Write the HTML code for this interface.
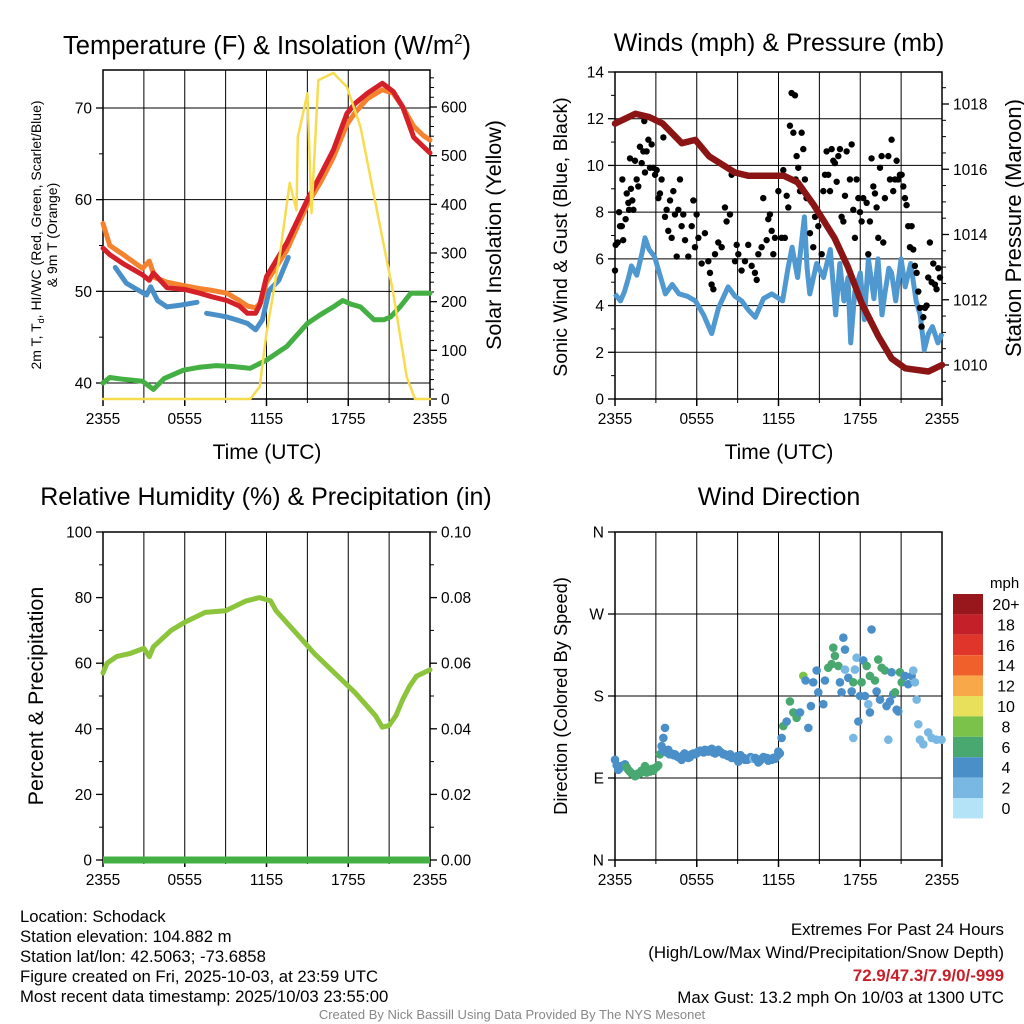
<!DOCTYPE html>
<html><head><meta charset="utf-8"><style>
body{margin:0;background:#fff;}
svg{display:block;font-family:"Liberation Sans",Arial,sans-serif;}
</style></head><body>
<svg id="c" width="1024" height="1024" viewBox="0 0 1024 1024" xmlns="http://www.w3.org/2000/svg">
<rect width="1024" height="1024" fill="#fff"/>
<g id="layer"></g>
<text x="267" y="54" font-size="25.5" text-anchor="middle">Temperature (F) &amp; Insolation (W/m<tspan font-size="15" dy="-10">2</tspan><tspan dy="10">)</tspan></text>
<text x="779" y="51" font-size="25" text-anchor="middle">Winds (mph) &amp; Pressure (mb)</text>
<text x="266" y="505" font-size="25" text-anchor="middle">Relative Humidity (%) &amp; Precipitation (in)</text>
<text x="779" y="505" font-size="25" text-anchor="middle">Wind Direction</text>
<g font-size="14" text-anchor="middle">
<text transform="translate(41,235) rotate(-90)">2m T, T<tspan font-size="9" dy="3">d</tspan><tspan dy="-3">, HI/WC (Red, Green, Scarlet/Blue)</tspan></text>
<text transform="translate(57,235) rotate(-90)">&amp; 9m T (Orange)</text></g>
<text transform="translate(501,235) rotate(-90)" font-size="21.5" text-anchor="middle">Solar Insolation (Yellow)</text>
<text transform="translate(567,237) rotate(-90)" font-size="19.5" text-anchor="middle">Sonic Wind &amp; Gust (Blue, Black)</text>
<text transform="translate(1021,228) rotate(-90)" font-size="22" text-anchor="middle">Station Pressure (Maroon)</text>
<text transform="translate(43,696) rotate(-90)" font-size="21.5" text-anchor="middle">Percent &amp; Precipitation</text>
<text transform="translate(567,696) rotate(-90)" font-size="18.3" text-anchor="middle">Direction (Colored By Speed)</text>
<text x="267" y="459" font-size="21" text-anchor="middle">Time (UTC)</text>
<text x="779" y="459" font-size="21" text-anchor="middle">Time (UTC)</text>
<g font-size="16.7">
<text x="20" y="922">Location: Schodack</text>
<text x="20" y="942">Station elevation: 104.882 m</text>
<text x="20" y="962">Station lat/lon: 42.5063; -73.6858</text>
<text x="20" y="982">Figure created on Fri, 2025-10-03, at 23:59 UTC</text>
<text x="20" y="1002">Most recent data timestamp: 2025/10/03 23:55:00</text></g>
<g font-size="16.9" text-anchor="end">
<text x="1004" y="935">Extremes For Past 24 Hours</text>
<text x="1004" y="958">(High/Low/Max Wind/Precipitation/Snow Depth)</text>
<text x="1004" y="981" fill="#c8202a" font-weight="bold">72.9/47.3/7.9/0/-999</text>
<text x="1004" y="1003">Max Gust: 13.2 mph On 10/03 at 1300 UTC</text></g>
<text x="512" y="1019" font-size="13" fill="#888" text-anchor="middle">Created By Nick Bassill Using Data Provided By The NYS Mesonet</text>
</svg>
<script>
// ---- data ----
const timeTicks = ["2355","0555","1155","1755","2355"];
const redH = [0,0.5,1.5,2.9,3.4,3.7,4.7,6,7.1,8,9.1,10,10.6,11.2,11.5,12,13.5,15,16,16.9,17.9,18.5,19.4,20.5,21.3,22,22.8,23.5,24];
const redT = [54.7,54,53,51.8,51.2,52,50.4,50.2,49.8,49.4,49,48.4,47.6,47.6,48.5,51.6,55.3,60,62.8,65.4,69.4,70.5,71.6,72.7,71.8,70.1,66.8,65.8,65.1];
const orgH = [0,0.5,1.5,2.9,3.4,3.8,4.7,6,7.1,8,9.1,10,10.6,11.2,11.6,12,13.5,15,16,16.9,17.9,18.5,19.4,20.5,21.3,22,22.8,23.5,24];
const orgT = [57.4,55,54,52.5,53.3,51.5,51,50.6,50.3,50.1,49.8,49,48.4,48.2,48.8,51,54.5,59.5,62,64.6,68.2,69.5,71,72,71.6,70.1,68,67,66.5];
const bluH = [0.9,1.7,2.5,3.2,3.5,4.0,4.7,5.7,6.9,null,7.6,8.4,9.1,10,10.6,11.2,11.7,12.2,12.9,13.6];
const bluT = [52.6,50.9,50.2,49.6,50.5,49,48.3,48.5,48.8,null,47.6,47.4,47.2,46.8,46.5,45.8,46.9,50.1,51.2,53.7];
const grnH = [0,0.5,1.5,2.9,3.7,4.5,5.9,7,8.3,9.5,10.8,12,13.5,15,16,16.9,17.6,18.2,18.9,19.9,20.6,21.1,21.8,22.6,24];
const grnT = [40,40.6,40.4,40.2,39.3,40.5,41.4,41.7,41.9,41.8,41.6,42.5,44,46.5,47.5,48.3,49,48.6,48.3,46.9,46.9,47.2,48.3,49.8,49.8];
const solH = [0,10.8,11.5,12,13,13.7,14.2,14.3,15,15.3,15.8,16.9,17.9,18.9,20.1,21.3,22.3,22.9,24];
const solV = [0,0,25,135,300,444,388,538,628,382,655,670,641,559,388,218,45,0,0];
const sonH = [0,0.4,0.7,1.0,1.2,1.6,2.0,2.2,2.5,2.9,3.3,3.7,4.2,4.7,5.3,5.9,6.5,7.1,7.6,8.3,8.8,9.3,9.8,10.3,10.9,11.5,12.3,12.7,13.0,13.4,13.9,14.1,14.3,14.8,15.3,15.8,16.2,16.5,16.8,17.1,17.3,17.6,18.0,18.3,18.6,19.0,19.3,19.6,19.8,20.1,20.3,20.6,21.0,21.3,21.7,22.1,22.4,22.7,23.0,23.3,23.7,24];
const sonV = [4.5,4.2,4.6,5.2,5.7,5.3,6.3,6.9,6.4,6.1,5.3,4.5,4.9,4.5,4.4,4.2,3.6,2.8,3.9,4.8,4.4,4.2,3.8,3.5,4.3,4.5,4.2,5.6,6.5,5.2,7.8,5.6,4.5,5.8,5.2,6.4,3.6,5.8,4.2,5.2,2.4,4.6,5.4,3.4,6.0,4.3,6.0,3.6,4.5,5.6,5.4,4.2,6.0,4.8,5.8,4.2,3.6,2.1,2.8,3.1,2.4,2.8];
const presH = [0,1.5,2.5,3.5,4.9,5.9,6.9,8.8,9.8,11.2,12.4,13.4,14.6,16.1,17.1,18.1,19.3,20.3,21.3,23,24];
const presV = [1017.4,1017.7,1017.6,1017.4,1016.8,1016.9,1016.4,1015.9,1015.8,1015.8,1015.8,1015.6,1014.9,1013.9,1013.0,1011.9,1010.9,1010.2,1009.9,1009.8,1010.0];
const gustH = [0,0.05,0.2,0.3,0.37,0.5,0.54,0.6,0.78,0.86,0.98,1.03,1.1,1.17,1.27,1.35,1.47,1.59,1.71,1.83,1.96,2.08,2.15,2.2,2.32,2.45,2.57,2.69,2.81,2.94,3.06,3.18,3.3,3.42,3.55,3.67,3.79,3.91,4.04,4.16,4.28,4.4,4.53,4.65,4.77,4.89,5.01,5.14,5.38,5.63,5.75,5.87,5.99,6.12,6.36,6.6,6.85,6.97,7.09,7.22,7.34,7.58,7.83,8.07,8.19,8.44,8.56,8.81,8.93,9.05,9.29,9.54,9.78,10.03,10.27,10.4,10.52,10.76,10.88,11.13,11.25,11.37,11.5,11.62,11.74,11.99,12.23,12.35,12.47,12.6,12.72,12.84,12.96,13.09,13.21,13.26,13.33,13.45,13.58,13.7,13.82,13.94,14.06,14.31,14.55,14.68,14.92,15.17,15.29,15.41,15.53,15.65,15.78,15.9,16.02,16.14,16.27,16.39,16.51,16.63,16.76,16.88,17.0,17.24,17.37,17.49,17.61,17.73,17.86,17.98,18.1,18.22,18.47,18.59,18.71,18.83,18.96,19.08,19.2,19.32,19.45,19.57,19.69,19.81,20.06,20.18,20.3,20.42,20.55,20.67,20.79,20.91,21.04,21.16,21.28,21.4,21.52,21.65,21.77,21.89,22.01,22.14,22.26,22.38,22.5,22.63,22.75,22.87,22.99,23.11,23.24,23.36,23.48,23.6,23.73,23.85];
const gustV = [5.5,6.6,6.7,8.0,7.4,7.4,9.4,6.8,7.7,8.8,8.4,8.1,10.3,9.0,8.5,8.1,10.2,9.4,9.1,10.8,10.1,10.6,11.9,9.7,10.6,11.1,9.9,10.9,9.9,9.6,9.8,8.6,8.8,9.4,11.2,7.8,8.1,7.2,8.5,6.9,8.9,7.9,6.1,8.1,9.4,7.4,7.9,6.8,6.1,7.4,8.5,6.5,7.9,6.9,5.8,7.1,5.9,5.4,4.9,4.7,6.2,6.7,6.5,8.2,7.6,7.9,9.6,5.9,6.6,6.2,5.5,5.9,6.6,5.7,5.4,5.1,6.2,6.5,8.6,6.8,7.7,7.9,7.2,6.2,6.9,8.9,6.9,9.8,6.9,8.7,8.2,11.7,13.1,11.4,13.0,9.4,10.4,9.9,8.9,11.4,10.7,9.4,8.6,7.1,6.5,7.8,7.4,6.2,8.9,9.6,10.6,9.6,8.9,10.7,10.2,10.1,9.3,10.4,10.7,7.8,7.6,8.7,10.6,9.4,10.9,8.1,6.9,9.4,8.6,8.0,7.6,8.6,8.4,6.2,7.6,10.3,9.1,8.8,8.2,6.9,9.9,10.4,6.7,8.6,10.4,9.4,11.1,8.9,9.4,10.2,9.4,9.6,9.6,9.1,8.6,8.3,7.4,6.5,7.4,6.4,5.7,5.4,4.6,3.9,3.1,3.5,3.9,4.0,5.2,6.7,5.0,5.8,4.9,4.7,5.6,5.2];
const rhH = [0,0.3,1,2,3,3.4,3.7,5,6,7.5,9,10.5,11.5,12.3,12.7,14,15.5,17,18.5,20,20.5,21,21.5,22,22.5,23,24];
const rhV = [57,60,62,63,64.5,62,65,70,72.5,75.5,76,79,80,79,76,70,63,57,51,44,40.5,41,44,49,53,56,58];
const precipH = [0,24];
const precipV = [0,0];
const dirH = [0,0.24,0.73,1.22,1.47,1.83,2.2,2.57,2.94,3.3,3.42,3.55,3.67,3.91,4.4,4.89,5.38,5.87,6.36,6.97,7.58,8.07,8.56,9.05,9.54,10.03,10.52,11.01,11.5,11.99,12.23,12.35,12.6,12.84,13.09,13.33,13.58,13.82,13.99,14.19,14.38,14.55,14.8,14.92,15.29,15.41,15.65,15.9,16.02,16.14,16.39,16.51,16.63,16.76,16.88,16.88,17.12,17.37,17.49,17.61,17.73,17.86,17.98,18.1,18.22,18.35,18.47,18.59,18.71,18.71,18.83,19.08,19.2,19.32,19.45,19.57,19.81,19.93,20.06,20.18,20.3,20.42,20.55,20.67,20.79,20.91,21.04,21.28,21.52,21.77,21.89,22.01,22.14,22.26,22.38,22.63,22.99,23.24,23.6,23.97,17.49,
 0.12,0.36,0.48,0.6,0.85,0.97,1.1,1.35,1.6,1.7,1.95,2.07,2.32,2.45,2.7,2.82,3.06,3.18,3.5,3.8,4.0,4.15,4.3,4.52,4.64,4.76,5.0,5.1,5.25,5.5,5.6,5.75,6.0,6.1,6.25,6.5,6.6,6.75,6.85,7.1,7.2,7.35,7.45,7.7,7.8,7.95,8.2,8.3,8.45,8.7,8.8,8.95,9.2,9.3,9.45,9.7,9.8,9.95,10.15,10.3,10.4,10.65,10.75,10.9,11.15,11.25,11.4,11.6,11.75,11.9,12.1];
const dirV = [110,99,105,95,92,95,103,97,101,116,125,134,145,121,116,110,112,116,119,121,121,116,112,108,110,112,107,112,110,119,134,147,152,174,162,156,162,202,197,145,169,195,208,184,171,197,211,215,233,224,213,195,184,244,231,209,200,185,195,209,222,152,180,195,219,180,213,171,202,162,253,197,185,220,176,211,208,169,132,174,206,182,184,165,163,206,195,202,193,202,208,195,176,149,132,127,140,134,132,132,134,
 104,101,103,104,102,99,97,94,93,95,98,97,96,99,100,98,102,104,120,118,116,117,115,114,113,112,115,117,114,113,116,117,117,119,120,118,121,120,119,122,118,117,120,119,118,116,115,114,116,113,112,114,115,113,112,110,111,113,111,112,110,109,111,113,112,109,110,112,111,114,117];
const dirS = [5,5,5,7,7,7,7,7,7,7,5,5,5,5,5,5,5,5,5,5,5,5,5,5,5,3,5,5,5,5,5,7,5,7,7,7,5,9,5,5,5,5,5,5,5,5,7,7,7,7,7,5,5,5,5,3,5,5,7,3,3,5,5,7,5,5,7,3,7,5,5,7,5,7,5,7,7,5,3,5,5,5,7,5,5,7,7,5,5,5,3,3,3,3,3,3,3,3,3,3,3,
 5,5,5,5,7,7,7,7,7,7,7,7,7,7,7,7,7,7,5,5,5,5,5,5,5,5,5,5,5,5,5,5,5,5,5,5,5,5,5,5,5,5,5,5,5,5,5,5,5,5,5,5,5,5,5,5,5,5,3,5,5,5,5,5,5,5,5,5,5,5,5];
const cbLabels = ["20+","18","16","14","12","10","8","6","4","2","0"];
const cbColors = ["#97171c","#c4202a","#e0352a","#f0602a","#f8a848","#e8e05a","#7ac24a","#48a870","#4a8fc8","#7ab8e4","#b4e2f6"];

// ---- helpers ----
const NS="http://www.w3.org/2000/svg";
const layer=document.getElementById('layer');
function mk(tag,attrs,parent){const e=document.createElementNS(NS,tag);for(const k in attrs)e.setAttribute(k,attrs[k]);(parent||layer).appendChild(e);return e;}
function scale(d0,d1,r0,r1){return v=>r0+(v-d0)/(d1-d0)*(r1-r0);}
function pathFrom(xs,ys,fx,fy){let d="",pen=false;for(let i=0;i<xs.length;i++){if(xs[i]===null||ys[i]===null){pen=false;continue;}d+=(pen?"L":"M")+fx(xs[i]).toFixed(1)+","+fy(ys[i]).toFixed(1);pen=true;}return d;}

function panel(name,x0,x1,y0,y1,hLines){
  const g=mk('g',{});
  
  
  const fx=scale(0,24,x0,x1);
  for(let h=3;h<24;h+=3){const l=mk('line',{x1:fx(h),x2:fx(h),y1:y0,y2:y1,stroke:'#000','stroke-width':1},g);
    
    }
  hLines.forEach(y=>{const l=mk('line',{x1:x0,x2:x1,y1:y,y2:y,stroke:'#000','stroke-width':1},g);
    
    });
  const r=mk('rect',{x:x0,y:y0,width:x1-x0,height:y1-y0,fill:'none',stroke:'#000','stroke-width':1.5},g);
  
  
  timeTicks.forEach((t,i)=>{const x=fx(i*6);
    mk('line',{x1:x,x2:x,y1:y1,y2:y1+7,stroke:'#000','stroke-width':1.5},g);
    const tx=mk('text',{x:x,y:y1+25,'font-size':15.5,'text-anchor':'middle'},g);tx.textContent=t;
    
    });
  for(let h=3;h<24;h+=6){mk('line',{x1:fx(h),x2:fx(h),y1:y1,y2:y1+4,stroke:'#000'},g);}
  return fx;
}
function yTicks(x,side,vals,labels,fy,minor,fs){
  const dir=side==='left'?-1:1;
  vals.forEach((v,i)=>{const y=fy(v);
    mk('line',{x1:x,x2:x+dir*7,y1:y,y2:y,stroke:'#000','stroke-width':1.3});
    const t=mk('text',{x:x+dir*11,y:y+5.5,'font-size':fs||15.5,'text-anchor':side==='left'?'end':'start'});
    t.textContent=labels[i];
    
    });
  (minor||[]).forEach(v=>{const y=fy(v);mk('line',{x1:x,x2:x+dir*4,y1:y,y2:y,stroke:'#000'});});
}

// ---- Panel 1: temperature ----
{
 const x0=103,x1=430,y0=70,y1=399;
 const fT=scale(40,70,383,108), fS=scale(0,600,399,107);
 const fx=panel('temperature',x0,x1,y0,y1,[40,50,60,70].map(fT));
 yTicks(x0,'left',[40,50,60,70],["40","50","60","70"],fT,[45,55,65]);
 const sv=[0,100,200,300,400,500,600];
 yTicks(x1,'right',sv,sv.map(String),fS,[20,40,60,80,120,140,160,180,220,240,260,280,320,340,360,380,420,440,460,480,520,540,560,580,620,640,660]);
 const series=[['dewpoint-line',grnH,grnT,'#44b044',fT,5],['heat-index-line',bluH,bluT,'#4a90c8',fT,5],['9m-temperature-line',orgH,orgT,'#f5822e',fT,5],['2m-temperature-line',redH,redT,'#d42028',fT,5],['solar-insolation-line',solH,solV,'#f7dc50',fS,2.5]];
 series.forEach(s=>{const p=mk('path',{d:pathFrom(s[1],s[2],fx,s[4]),fill:'none',stroke:s[3],'stroke-width':s[5],'stroke-linejoin':'round','stroke-linecap':'round'});
   
   });
}
// ---- Panel 2: winds ----
{
 const x0=615,x1=942,y0=72,y1=399;
 const fW=scale(0,14,399,72), fP=scale(1010,1018,365,104);
 const fx=panel('winds',x0,x1,y0,y1,[2,4,6,8,10,12].map(fW));
 const wv=[0,2,4,6,8,10,12,14];
 yTicks(x0,'left',wv,wv.map(String),fW,[1,3,5,7,9,11,13]);
 yTicks(x1,'right',[1010,1012,1014,1016,1018],["1010","1012","1014","1016","1018"],fP,[1009.5,1010.5,1011,1011.5,1012.5,1013,1013.5,1014.5,1015,1015.5,1016.5,1017,1017.5,1018.5]);
 const p1=mk('path',{d:pathFrom(sonH,sonV,fx,fW),fill:'none',stroke:'#4f98d0','stroke-width':5,'stroke-linejoin':'round'});
 
 
 gustH.forEach((h,i)=>{const c=mk('circle',{cx:fx(h),cy:fW(gustV[i]),r:3.2,fill:'#000'});
   
   });
 const p2=mk('path',{d:pathFrom(presH,presV,fx,fP),fill:'none',stroke:'#8b1515','stroke-width':6.5,'stroke-linejoin':'round','stroke-linecap':'round'});
 
 
}
// ---- Panel 3: humidity ----
{
 const x0=103,x1=430,y0=532,y1=860;
 const fR=scale(0,100,860,532), fPr=scale(0,0.1,860,532);
 const fx=panel('humidity',x0,x1,y0,y1,[]);
 const rv=[0,20,40,60,80,100];
 yTicks(x0,'left',rv,rv.map(String),fR,[10,30,50,70,90]);
 yTicks(x1,'right',[0,0.02,0.04,0.06,0.08,0.1],["0.00","0.02","0.04","0.06","0.08","0.10"],fPr,[0.01,0.03,0.05,0.07,0.09]);
 const p1=mk('path',{d:pathFrom(rhH,rhV,fx,fR),fill:'none',stroke:'#8cc43c','stroke-width':5,'stroke-linejoin':'round','stroke-linecap':'round'});
 
 
 const p2=mk('path',{d:pathFrom(precipH,precipV,fx,fPr),fill:'none',stroke:'#44b044','stroke-width':7});
 
 
}
// ---- Panel 4: wind direction ----
{
 const x0=615,x1=942,y0=532,y1=860;
 const fD=scale(0,360,860,532);
 const fx=panel('wind-direction',x0,x1,y0,y1,[90,180,270].map(fD));
 yTicks(x0,'left',[0,90,180,270,360],["N","E","S","W","N"],fD,[]);
 function col(s){let i=Math.min(10,Math.floor(s/2));return cbColors[10-i];}
 dirH.forEach((h,i)=>{const c=mk('circle',{cx:fx(h),cy:fD(dirV[i]),r:4.3,fill:col(dirS[i])});
   
   });
 const t=mk('text',{x:990,y:588,'font-size':15});t.textContent='mph';
 
 
 cbColors.forEach((c,i)=>{const y=594+i*20.4;
   const r=mk('rect',{x:953,y:y,width:30,height:20.4,fill:c});
   
   
   const l=mk('text',{x:1006,y:y+16,'font-size':16,'text-anchor':'middle'});l.textContent=cbLabels[i];
   
   });
}
</script>
</body></html>
